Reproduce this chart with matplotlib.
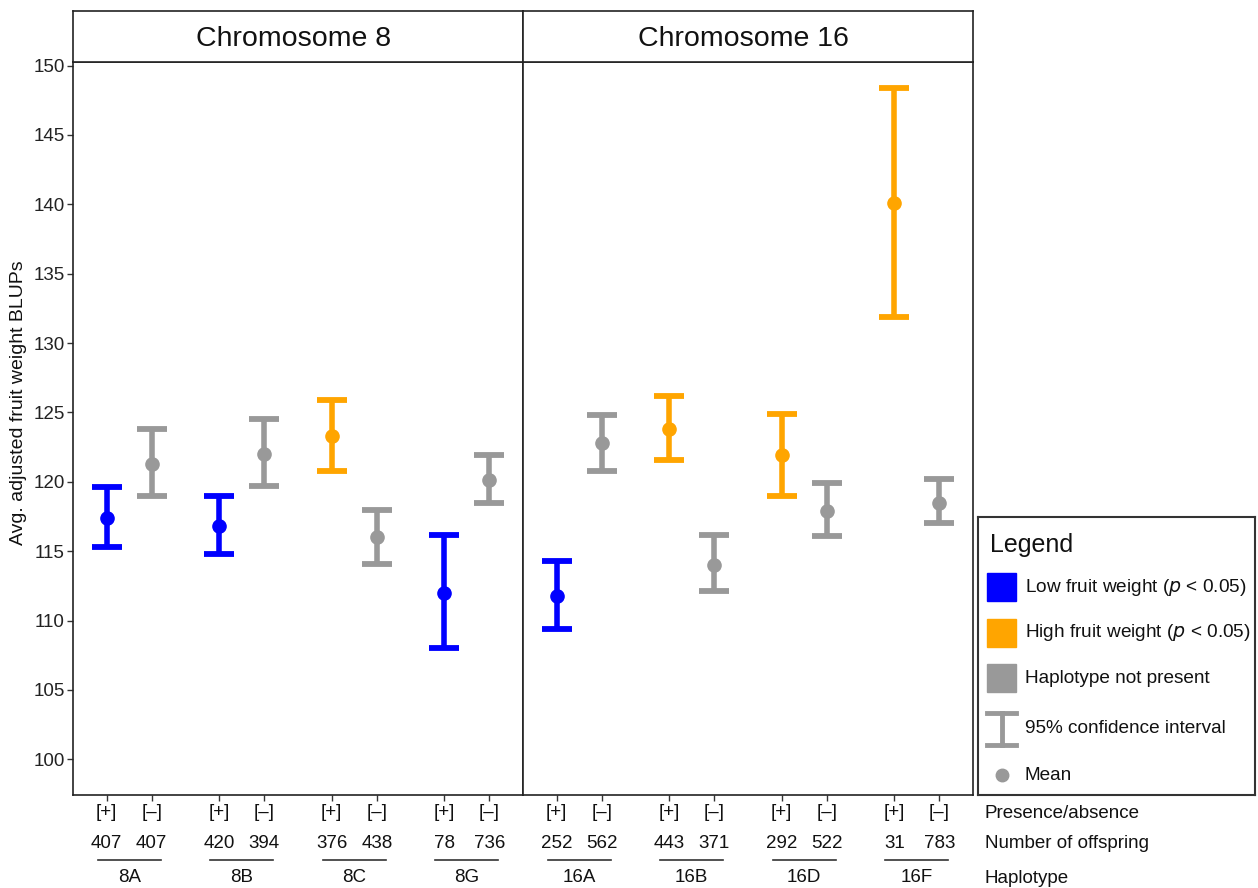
import matplotlib
matplotlib.use('Agg')
import matplotlib.pyplot as plt
from matplotlib.lines import Line2D
from matplotlib.patches import Rectangle

plt.rcParams['font.family'] = ['Liberation Sans', 'DejaVu Sans']

# haplotypes and offspring counts ([+] then [-] for each haplotype)
chrom8_haps = ['8A', '8B', '8C', '8G']
chrom16_haps = ['16A', '16B', '16D', '16F']
chrom8_n = [407, 407, 420, 394, 376, 438, 78, 736]
chrom16_n = [252, 562, 443, 371, 292, 522, 31, 783]

# mean and 95% CI of adjusted fruit weight BLUPs
chrom8_mean = [117.4, 121.3, 116.8, 122.0, 123.3, 116.0, 112.0, 120.1]
chrom8_lo = [115.3, 119.0, 114.8, 119.7, 120.8, 114.1, 108.0, 118.5]
chrom8_hi = [119.6, 123.8, 119.0, 124.5, 125.9, 118.0, 116.2, 121.9]
chrom8_grp = ['low', 'none', 'low', 'none', 'high', 'none', 'low', 'none']

chrom16_mean = [111.8, 122.8, 123.8, 114.0, 121.9, 117.9, 140.1, 118.5]
chrom16_lo = [109.4, 120.8, 121.6, 112.1, 119.0, 116.1, 131.9, 117.0]
chrom16_hi = [114.3, 124.8, 126.2, 116.2, 124.9, 119.9, 148.4, 120.2]
chrom16_grp = ['low', 'none', 'high', 'none', 'high', 'none', 'high', 'none']

colors = {'low': '#0000FF', 'high': '#FFA500', 'none': '#999999'}
legend_labels = ['Low fruit weight ($\\it{p}$ < 0.05)',
                 'High fruit weight ($\\it{p}$ < 0.05)',
                 'Haplotype not present']

W, H = 1258, 888
fig = plt.figure(figsize=(W / 100, H / 100), dpi=100)


def box(x0, y0, x1, y1):
    # pixel box (top-left origin) -> figure fraction
    return [x0 / W, 1 - y1 / H, (x1 - x0) / W, (y1 - y0) / H]


ax8 = fig.add_axes(box(73, 62, 523, 795))
ax16 = fig.add_axes(box(523, 62, 973, 795))
strip8 = fig.add_axes(box(73, 11, 523, 62))
strip16 = fig.add_axes(box(523, 11, 973, 62))
leg = fig.add_axes(box(978, 517, 1255, 795))


def draw_panel(ax, haps, n, mean, lo, hi, grp, show_y):
    x = []
    for i in range(len(haps)):
        x += [i + 1 - 0.2, i + 1 + 0.2]
    for xi, m, l, h, g in zip(x, mean, lo, hi, grp):
        ax.errorbar(xi, m, yerr=[[m - l], [h - m]], fmt='o', color=colors[g],
                    ms=9.5, elinewidth=4, capsize=10.8, capthick=4.2)
    ax.set_xlim(0.5, 4.5)
    ax.set_ylim(97.43, 150.26)
    ax.set_xticks(x)
    ax.set_xticklabels([])
    ax.tick_params(axis='x', direction='out', length=4, width=1, color='#333333')
    if show_y:
        ax.set_yticks(range(100, 151, 5))
        ax.tick_params(axis='y', direction='out', length=4, width=1,
                       color='#333333', labelsize=13.5, labelcolor='#222222', pad=2)
    else:
        ax.set_yticks([])
    for s in ax.spines.values():
        s.set_linewidth(1.2)
        s.set_color('#222222')

    tr = ax.get_xaxis_transform()
    for xi, lab in zip(x, ['[+]', '[\u2013]'] * len(haps)):
        ax.text(xi, -0.0232, lab, transform=tr, ha='center', va='center',
                fontsize=13.5, color='#111111')
    for xi, cnt in zip(x, n):
        ax.text(xi, -0.0655, str(cnt), transform=tr, ha='center', va='center',
                fontsize=13.5, color='#111111')
    for i, hp in enumerate(haps):
        ax.add_line(Line2D([i + 1 - 0.28, i + 1 + 0.28], [-0.0887, -0.0887],
                           transform=tr, color='#333333', lw=1.2, clip_on=False))
        ax.text(i + 1, -0.1132, hp, transform=tr, ha='center', va='center',
                fontsize=13.5, color='#111111')


draw_panel(ax8, chrom8_haps, chrom8_n, chrom8_mean, chrom8_lo, chrom8_hi, chrom8_grp, True)
draw_panel(ax16, chrom16_haps, chrom16_n, chrom16_mean, chrom16_lo, chrom16_hi, chrom16_grp, False)

for st, title in [(strip8, 'Chromosome 8'), (strip16, 'Chromosome 16')]:
    st.set_xticks([])
    st.set_yticks([])
    for s in st.spines.values():
        s.set_linewidth(1.2)
        s.set_color('#222222')
    st.text(0.49, 0.45, title, transform=st.transAxes, ha='center', va='center',
            fontsize=20.5, color='#111111')

fig.text(19 / W, 1 - 403 / H, 'Avg. adjusted fruit weight BLUPs', rotation=90,
         ha='center', va='center', fontsize=14, color='#111111')

for ypix, lab in [(813, 'Presence/absence'), (843, 'Number of offspring'), (878, 'Haplotype')]:
    fig.text(985 / W, 1 - ypix / H, lab, ha='left', va='center', fontsize=13.5,
             color='#111111')

# legend box drawn in pixel coordinates
leg.set_xlim(978, 1255)
leg.set_ylim(795, 517)
leg.set_xticks([])
leg.set_yticks([])
for s in leg.spines.values():
    s.set_linewidth(1.5)
    s.set_color('#333333')
leg.text(990, 545, 'Legend', ha='left', va='center', fontsize=18, color='#111111')
for yc, key, lab in zip([587, 632.5, 678], ['low', 'high', 'none'], legend_labels):
    leg.add_patch(Rectangle((987, yc - 14), 29, 28, color=colors[key]))
    leg.text(1025, yc, lab, ha='left', va='center', fontsize=13.7, color='#111111')
leg.plot([1001.5, 1001.5], [713, 745], color='#999999', lw=3.5)
leg.plot([987, 1016], [713, 713], color='#999999', lw=3.5)
leg.plot([987, 1016], [745, 745], color='#999999', lw=3.5)
leg.text(1025, 728, '95% confidence interval', ha='left', va='center', fontsize=13.7,
         color='#111111')
leg.plot([1002], [775], 'o', color='#999999', ms=9)
leg.text(1025, 775, 'Mean', ha='left', va='center', fontsize=13.7, color='#111111')

fig.savefig('out.png', dpi=100)
